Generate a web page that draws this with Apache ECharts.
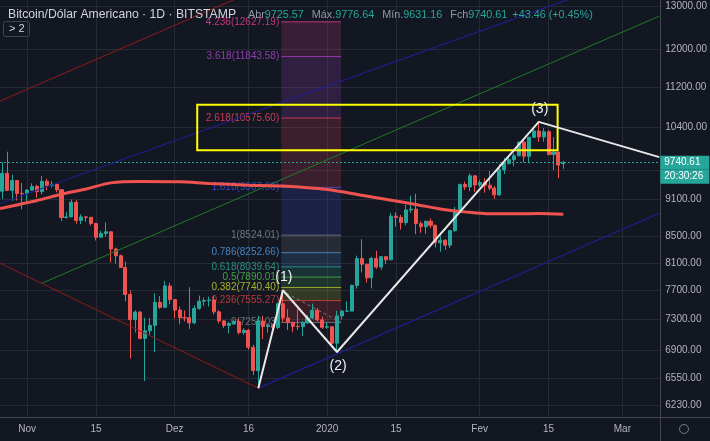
<!DOCTYPE html>
<html><head><meta charset="utf-8">
<script src="https://cdn.jsdelivr.net/npm/echarts/dist/echarts.min.js"></script>
<style>html,body{margin:0;padding:0;background:#131722;}#c{width:710px;height:441px;}</style>
</head><body><div id="c"></div>
<script>
// ---------- DATA ----------
const startDate = '2019-10-27';
const dayCount = 134; // Oct 27 2019 .. Mar 8 2020
// daily candles from Oct 27 2019, [open, high, low, close]
const candles = [
[9241,9749,9112,9551],[9552,9940,9256,9256],[9256,9530,9079,9427],[9427,9430,9085,9205],[9205,9383,8940,9199],
[9199,9276,9075,9261],[9261,9376,9249,9324],[9324,9352,9132,9235],[9235,9505,9191,9413],[9413,9457,9256,9342],
[9342,9421,9305,9361],[9361,9379,9221,9267],[9267,9280,8749,8805],[8805,8891,8788,8815],[8815,9103,8812,9055],
[9055,9092,8704,8757],[8757,8858,8700,8815],[8815,8833,8736,8808],[8808,8812,8676,8708],[8708,8720,8440,8491],
[8491,8590,8484,8550],[8550,8727,8500,8577],[8577,8580,8108,8309],[8309,8329,8088,8206],[8206,8225,8028,8030],
[8030,8117,7547,7642],[7642,7697,6790,7296],[7296,7420,7126,7397],[7397,7412,7036,7047],[7047,7319,6515,7146],
[7146,7320,7098,7218],[7218,7655,6870,7531],[7531,7620,7441,7463],[7463,7836,7450,7761],[7761,7808,7506,7569],
[7569,7572,7311,7424],[7424,7474,7233,7321],[7321,7418,7271,7320],[7320,7743,7170,7252],[7252,7490,7233,7448],
[7448,7625,7429,7547],[7547,7598,7481,7556],[7556,7611,7473,7564],[7564,7618,7365,7400],[7400,7424,7246,7278],
[7278,7288,7182,7217],[7217,7266,7112,7243],[7243,7293,7237,7269],[7269,7308,7097,7124],[7124,7181,7095,7152],
[7152,7171,6903,6932],[6932,6964,6587,6640],[6640,7349,6430,7276],[7276,7346,7039,7203],[7203,7240,7119,7219],
[7219,7225,7165,7191],[7191,7518,7167,7512],[7512,7701,7269,7317],[7317,7436,7157,7255],[7255,7271,7128,7205],
[7205,7435,7157,7202],[7202,7275,7076,7254],[7254,7360,7238,7317],[7317,7513,7300,7422],[7422,7454,7271,7292],
[7292,7335,7170,7193],[7193,7254,7175,7200],[7200,7212,6935,6985],[6985,7413,6873,7345],[7345,7428,7300,7410],
[7410,7544,7400,7411],[7411,7781,7409,7769],[7769,8207,7723,8163],[8163,8460,7956,8079],[8079,8083,7810,7879],
[7879,8190,7727,8166],[8166,8280,8010,8037],[8037,8197,7996,8192],[8192,8197,8079,8144],[8144,8879,8140,8827],
[8827,8890,8657,8807],[8807,8846,8612,8723],[8723,9012,8678,8929],[8929,9164,8882,8942],[8942,9198,8539,8706],
[8706,8745,8560,8657],[8657,8755,8544,8745],[8745,8792,8636,8680],[8680,8687,8333,8406],[8406,8514,8266,8445],
[8445,8458,8296,8367],[8367,8602,8325,8596],[8596,8977,8577,8909],[8909,9371,8881,9358],[9358,9406,9262,9316],
[9316,9553,9242,9508],[9508,9521,9230,9350],[9350,9439,9313,9392],[9392,9468,9217,9344],[9344,9594,9256,9293],
[9293,9331,9112,9180],[9180,9719,9163,9613],[9613,9824,9539,9729],[9729,9866,9707,9795],[9795,9914,9677,9865],
[9865,10129,9864,10116],[10116,10165,9743,9856],[9856,10210,9730,10208],[10208,10393,10202,10326],[10326,10502,10116,10214],
[10214,10380,10125,10312],[10312,10341,9874,9889],[9889,10210,9608,9934],[9934,9938,9467,9697.15],[9725.57,9776.64,9631.16,9740.61]
];
const countdown = '20:30:26';
const yTicks = [6230, 6550, 6900, 7300, 7700, 8100, 8500, 9100, 10400, 11200, 12000, 13000];
const yGridExtra = [9600];
const xTickDates = ['2019-11-01','2019-11-15','2019-12-01','2019-12-16','2020-01-01','2020-01-15','2020-02-01','2020-02-15','2020-03-01'];
const xTickLabels = ['Nov','15','Dez','16','2020','15','Fev','15','Mar'];
// moving average [date, value]
const maPoints = [['2019-10-26 12:00',8950],['2019-11-03',9085],['2019-11-08',9190],['2019-11-13',9280],['2019-11-18',9385],
['2019-11-24',9410],['2019-12-02',9405],['2019-12-08',9375],['2019-12-16',9346],['2019-12-23',9330],['2020-01-01',9270],
['2020-01-08',9175],['2020-01-14',9091],['2020-01-19',9020],['2020-01-24',8945],['2020-01-29',8897],['2020-02-03',8865],
['2020-02-09',8865],['2020-02-13',8870],['2020-02-18',8860]];
// elliott wave
const wavePoints = [['2019-12-18',6430],['2019-12-23',7701],['2020-01-03',6873],['2020-02-13',10502],['2020-03-08 12:00',9841]];
const waveLabels = ['','(1)','(2)','(3)',''];
// pitchfork-like trend lines
const greenLine = [['2019-11-04',7800],['2020-03-08 12:00',12760]];
const redLowerLine = [['2019-10-26 12:00',8094],['2019-12-18',6430]];
const redUpperLine = [['2019-10-26 12:00',10911],['2019-12-17 11:00',13384]];
const blueUpperLine = [['2019-10-26 12:00',9035],['2020-02-25 07:00',13430]];
const blueLowerLine = [['2019-12-18',6430],['2020-03-08 12:00',8875]];
// fib extension
const fibRange = ['2019-12-22 16:00','2020-01-03 20:00'];
const fibTrend = [['2019-12-22 16:00',7698],['2020-01-03 20:00',7256]];
const fibLevels = [0, 0.236, 0.382, 0.5, 0.618, 0.786, 1, 1.618, 2.618, 3.618, 4.236];
const fibPrices = [7256.03, 7555.27, 7740.40, 7890.01, 8039.64, 8252.66, 8524.01, 9307.60, 10575.60, 11843.58, 12627.19];
// yellow zone
const zoneDates = ['2019-12-05 14:00','2020-02-16 20:00'];
const zonePrices = [9965, 10840];

// ---------- STYLE ----------
const fibColors = ['#787b86','#d03a3a','#b6c22e','#4caf50','#2e9e8a','#4a8fd0','#787b86','#3c4fd0','#e0405a','#a040c0','#d83a85'];
const BG = '#131722', GRID = '#262a35', TXT = '#b2b5be';

// ---------- helpers ----------
const DAY = 86400000;
const [sy, sm, sd] = startDate.split('-').map(Number);
const START = Date.UTC(sy, sm - 1, sd);
function dayIdx(s) {
  const [d, t] = s.split(' ');
  const [Y, M, D] = d.split('-').map(Number);
  let v = (Date.UTC(Y, M - 1, D) - START) / DAY;
  if (t) { const [h, m] = t.split(':').map(Number); v += (h + (m || 0) / 60) / 24; }
  return v;
}
function fmtDate(ms) { const d = new Date(ms); return d.toISOString().slice(0, 10); }
const dates = [];
for (let i = 0; i < dayCount; i++) dates.push(fmtDate(START + i * DAY));
const pts = arr => arr.map(p => [dayIdx(p[0]), p[1]]);

const last = candles[candles.length - 1];
const prevClose = candles[candles.length - 2][3];
const chg = last[3] - prevClose;
const pct = chg / prevClose * 100;

const chart = echarts.init(document.getElementById('c'), null, { renderer: 'canvas' });
const FONT = 'Liberation Sans';

const lineSeries = (data, color, width, extra) => Object.assign({
  type: 'line', xAxisIndex: 1, yAxisIndex: 0, data: pts(data), symbol: 'none', silent: true,
  lineStyle: { color: color, width: width }, clip: true, animation: false, z: 5
}, extra || {});

const option = {
  backgroundColor: BG,
  animation: false,
  textStyle: { fontFamily: FONT },
  grid: { left: 0, right: 50, top: 0, bottom: 24, containLabel: false },
  title: {
    left: 3, top: 1,
    text: '{n|Bitcoin/Dólar Americano · 1D · BITSTAMP} {l|Abr}{v|' + last[0].toFixed(2) + '} {l|Máx.}{v|' + last[1].toFixed(2) +
      '} {l|Mín.}{v|' + last[2].toFixed(2) + '} {l|Fch}{v|' + last[3].toFixed(2) + '} {v|' + (chg >= 0 ? '+' : '') + chg.toFixed(2) +
      ' (' + (pct >= 0 ? '+' : '') + pct.toFixed(2) + '%)}',
    textStyle: { fontWeight: 'normal', rich: {
      n: { color: '#d1d4dc', fontSize: 12.2, fontWeight: 'normal', fontFamily: FONT, padding: [0, 4, 0, 0] },
      l: { color: '#9598a1', fontSize: 10.8, fontWeight: 'normal', fontFamily: FONT, padding: [0, 0, 0, 3] },
      v: { color: '#26a69a', fontSize: 10.8, fontWeight: 'normal', fontFamily: FONT }
    } }
  },
  graphic: [
    { type: 'rect', left: 3, top: 21, shape: { width: 26, height: 15, r: 2 }, style: { fill: BG, stroke: '#434651', lineWidth: 1 } },
    { type: 'text', left: 9, top: 23, style: { text: '> 2', fill: '#d1d4dc', font: '11px ' + FONT } },
    { type: 'line', shape: { x1: 0, y1: 417.5, x2: 710, y2: 417.5 }, style: { stroke: '#434651', lineWidth: 1 } },
    { type: 'line', shape: { x1: 660.5, y1: 0, x2: 660.5, y2: 441 }, style: { stroke: '#434651', lineWidth: 1 } },
    { type: 'circle', shape: { cx: 684, cy: 429, r: 4.5 }, style: { fill: 'none', stroke: '#787b86', lineWidth: 1 } }
  ],
  xAxis: [
    { type: 'category', data: dates, boundaryGap: true, axisLine: { show: false }, axisTick: { show: false },
      axisLabel: { show: false }, splitLine: { show: false } },
    { type: 'value', min: -0.5, max: dayCount - 0.5, position: 'bottom',
      axisLine: { show: false }, axisTick: { show: false, customValues: xTickDates.map(dayIdx) },
      axisLabel: { show: true, customValues: xTickDates.map(dayIdx), color: TXT, fontSize: 10, margin: 7,
        formatter: v => { const k = xTickDates.map(dayIdx).indexOf(v); return k >= 0 ? xTickLabels[k] : ''; } },
      splitLine: { show: true, lineStyle: { color: GRID, width: 1 } } }
  ],
  yAxis: [{
    type: 'log', logBase: 10, position: 'right', min: 6097, max: 13145,
    axisLine: { show: false }, axisTick: { show: false, customValues: yTicks.concat(yGridExtra) },
    axisLabel: { show: true, customValues: yTicks, color: TXT, fontSize: 10, margin: 6, formatter: v => v.toFixed(2) },
    splitLine: { show: true, lineStyle: { color: GRID, width: 1 } }
  }],
  series: [
    { // fib extension
      type: 'custom', xAxisIndex: 1, yAxisIndex: 0, silent: true, z: 1, clip: true,
      data: fibPrices.map(p => [dayIdx(fibRange[0]), p]),
      renderItem: function (params, api) {
        const i = params.dataIndex;
        const a = api.coord([dayIdx(fibRange[0]), fibPrices[i]]);
        const b = api.coord([dayIdx(fibRange[1]), fibPrices[i]]);
        const ch = [];
        if (i > 0) {
          const yl = api.coord([dayIdx(fibRange[0]), fibPrices[i - 1]])[1];
          ch.push({ type: 'rect', shape: { x: a[0], y: a[1], width: b[0] - a[0], height: yl - a[1] },
            style: { fill: fibColors[i], opacity: 0.2 } });
        }
        ch.push({ type: 'line', shape: { x1: a[0], y1: a[1], x2: b[0], y2: b[1] }, style: { stroke: fibColors[i], lineWidth: 1, opacity: 0.85 } });
        ch.push({ type: 'text', style: { text: fibLevels[i] + '(' + fibPrices[i].toFixed(2) + ')', x: a[0] - 2, y: a[1],
          align: 'right', verticalAlign: 'middle', fill: fibColors[i], font: '10px ' + FONT, opacity: 0.9 } });
        return { type: 'group', children: ch };
      }
    },
    lineSeries(fibTrend, '#787b86', 1, { lineStyle: { color: '#787b86', width: 1, type: [3, 3] }, z: 2 }),
    lineSeries(redUpperLine, '#8e1b1b', 1),
    lineSeries(redLowerLine, '#8e1b1b', 1),
    lineSeries(greenLine, '#1f7a2a', 1),
    lineSeries(blueUpperLine, '#1f1f8f', 1.2),
    lineSeries(blueLowerLine, '#1f1f8f', 1.2),
    {
      type: 'candlestick', xAxisIndex: 0, yAxisIndex: 0, z: 3, silent: true,
      barWidth: '72%',
      data: candles.map(c => [c[0], c[3], c[2], c[1]]),
      itemStyle: { color: '#26a69a', color0: '#ef5350', borderColor: '#26a69a', borderColor0: '#ef5350', borderWidth: 1 },
      markLine: {
        silent: true, symbol: ['none', 'none'], animation: false,
        data: [{ yAxis: last[3] }],
        lineStyle: { color: '#26a69a', type: [2, 2], width: 1 },
        label: { show: true, position: 'end', distance: 1,
          formatter: '{h|}\n{p|' + last[3].toFixed(2) + '}\n{t|' + countdown + '}',
          rich: {
            h: { height: 14, width: 48 },
            p: { backgroundColor: '#26a69a', color: '#ffffff', width: 45, height: 14, fontSize: 10, padding: [0, 0, 0, 4], fontFamily: FONT },
            t: { backgroundColor: '#26a69a', color: '#ffffff', width: 45, height: 14, fontSize: 10, padding: [0, 0, 0, 4], fontFamily: FONT }
          } }
      }
    },
    lineSeries(maPoints, '#ef5350', 3, { smooth: 0.3, z: 6 }),
    { // yellow zone
      type: 'custom', xAxisIndex: 1, yAxisIndex: 0, silent: true, z: 7,
      data: [[dayIdx(zoneDates[0]), zonePrices[1]]],
      renderItem: function (params, api) {
        const a = api.coord([dayIdx(zoneDates[0]), zonePrices[1]]);
        const b = api.coord([dayIdx(zoneDates[1]), zonePrices[0]]);
        return { type: 'rect', shape: { x: a[0], y: a[1], width: b[0] - a[0], height: b[1] - a[1] },
          style: { fill: 'none', stroke: '#ffff00', lineWidth: 2 } };
      }
    },
    lineSeries(wavePoints, '#e8e8e8', 2, { z: 8 }),
    { // wave labels
      type: 'custom', xAxisIndex: 1, yAxisIndex: 0, silent: true, z: 9, clip: false,
      data: wavePoints.map(p => [dayIdx(p[0]), p[1]]),
      renderItem: function (params, api) {
        const i = params.dataIndex;
        if (!waveLabels[i]) return null;
        const c = api.coord([dayIdx(wavePoints[i][0]), wavePoints[i][1]]);
        const below = wavePoints[i][1] < wavePoints[i - 1][1];
        return { type: 'text', style: { text: waveLabels[i], x: c[0] + 1, y: below ? c[1] + 7 : c[1] - 6,
          align: 'center', verticalAlign: below ? 'top' : 'bottom', fill: '#f0f0f0', font: '14px ' + FONT } };
      }
    }
  ]
};
chart.setOption(option);
</script></body></html>
